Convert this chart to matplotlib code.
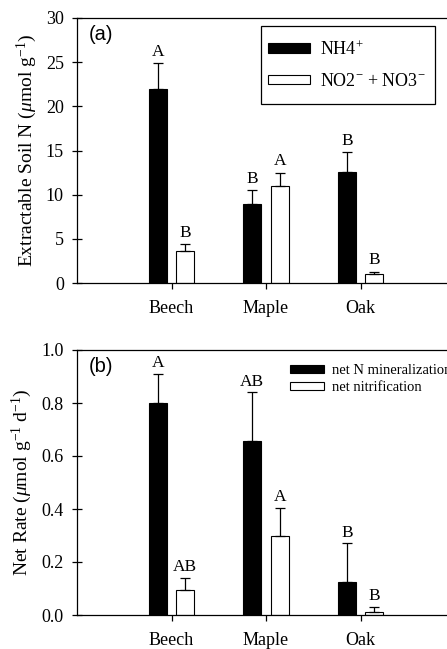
import matplotlib
matplotlib.use("Agg")
import matplotlib.pyplot as plt
import numpy as np
from matplotlib.patches import Patch, Rectangle

plt.rcParams['font.family'] = ['Liberation Serif', 'DejaVu Serif']
plt.rcParams['mathtext.fontset'] = 'custom'
plt.rcParams['mathtext.rm'] = 'Liberation Serif'
plt.rcParams['mathtext.it'] = 'Liberation Serif:italic'

categories = ['Beech', 'Maple', 'Oak']

# Panel (a)
nh4 = [22.0, 9.0, 12.6]
nh4_err = [2.9, 1.5, 2.2]
no3 = [3.6, 11.0, 1.0]
no3_err = [0.8, 1.5, 0.3]
nh4_letters = ['A', 'B', 'B']
no3_letters = ['B', 'A', 'B']

# Panel (b)
minz = [0.80, 0.655, 0.125]
minz_err = [0.11, 0.185, 0.145]
nitr = [0.095, 0.30, 0.010]
nitr_err = [0.045, 0.105, 0.020]
minz_letters = ['A', 'AB', 'B']
nitr_letters = ['AB', 'A', 'B']

fig = plt.figure(figsize=(4.47, 6.49), dpi=100)
W = 378 / 447
ax1 = fig.add_axes([77 / 447, 1 - 283 / 649, W, 265 / 649])
ax2 = fig.add_axes([77 / 447, 1 - 615 / 649, W, 265 / 649])

x = np.arange(len(categories))
off = 0.145
bw = 0.19


def panel(ax, v1, e1, l1, v2, e2, l2, ymax, yticks, fmt, ylabel, tag, gap):
    ax.bar(x - off, v1, bw, color='black', edgecolor='black', linewidth=0.8, zorder=2)
    ax.bar(x + off, v2, bw, color='white', edgecolor='black', linewidth=0.8, zorder=2)
    ax.errorbar(x - off, v1, yerr=[np.zeros(3), e1], fmt='none', ecolor='black',
                elinewidth=0.9, capsize=3.5, capthick=0.9, zorder=3)
    ax.errorbar(x + off, v2, yerr=[np.zeros(3), e2], fmt='none', ecolor='black',
                elinewidth=0.9, capsize=3.5, capthick=0.9, zorder=3)
    for i in range(3):
        ax.text(x[i] - off, v1[i] + e1[i] + gap, l1[i], ha='center', va='bottom', fontsize=12.5)
        ax.text(x[i] + off, v2[i] + e2[i] + gap, l2[i], ha='center', va='bottom', fontsize=12.5)
    ax.set_xlim(-1, 3)
    ax.set_ylim(0, ymax)
    ax.set_yticks(yticks)
    ax.set_yticklabels([fmt.format(t) for t in yticks], fontsize=13)
    ax.set_xticks(x)
    ax.set_xticklabels(categories, fontsize=13)
    ax.tick_params(axis='x', direction='out', length=4, width=0.9, pad=8)
    ax.tick_params(axis='y', direction='inout', length=7, width=0.9, pad=6)
    ax.set_ylabel(ylabel, fontsize=14, labelpad=5)
    for s in ax.spines.values():
        s.set_linewidth(0.9)
    ax.text(0.03, 0.975, tag, transform=ax.transAxes, ha='left', va='top',
            fontsize=14.5, family='Liberation Sans')


panel(ax1, nh4, nh4_err, nh4_letters, no3, no3_err, no3_letters, 30,
      [0, 5, 10, 15, 20, 25, 30], '{:.0f}', r'Extractable Soil N ($\mu$mol g$^{-1}$)', '(a)', 0.4)
panel(ax2, minz, minz_err, minz_letters, nitr, nitr_err, nitr_letters, 1.0,
      [0.0, 0.2, 0.4, 0.6, 0.8, 1.0], '{:.1f}', r'Net Rate ($\mu$mol g$^{-1}$ d$^{-1}$)', '(b)', 0.01)

h1 = [Patch(facecolor='black', edgecolor='black', linewidth=0.8),
      Patch(facecolor='white', edgecolor='black', linewidth=0.8)]
leg1 = ax1.legend(h1, [r'NH4$^{+}$', r'NO2$^{-}$ + NO3$^{-}$'], loc='center left',
                  bbox_to_anchor=(191 / 378, 218 / 265), fontsize=13, frameon=False,
                  handlelength=2.3, handleheight=0.45,
                  borderpad=0, labelspacing=0.8, handletextpad=0.6, borderaxespad=0)
ax1.add_patch(Rectangle((184 / 378, 179 / 265), 174 / 378, 78 / 265, transform=ax1.transAxes,
                        facecolor='none', edgecolor='black', linewidth=0.9, clip_on=False,
                        zorder=5))

leg2 = ax2.legend(h1, ['net N mineralization', 'net nitrification'], loc='upper left',
                  bbox_to_anchor=(213 / 378, 251 / 265), fontsize=10.5, frameon=False,
                  handlelength=2.3, handleheight=0.5, labelspacing=0.3,
                  handletextpad=0.6, borderaxespad=0, borderpad=0)

fig.savefig('out.png', dpi=100)
